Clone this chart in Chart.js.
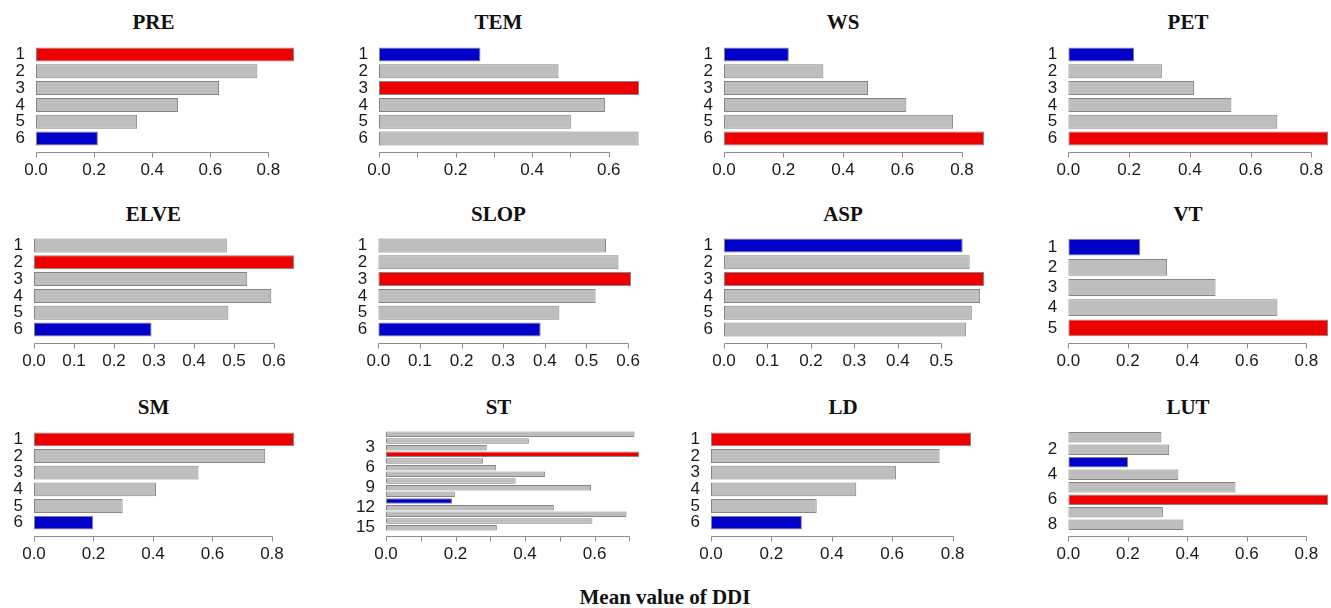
<!DOCTYPE html>
<html>
<head>
<meta charset="utf-8">
<script src="https://cdn.jsdelivr.net/npm/chart.js@4.4.1/dist/chart.umd.min.js"></script>
<style>
  html, body { margin: 0; background: #fff; }
  #fig { position: relative; width: 1331px; height: 608px; overflow: hidden; }
  #fig canvas { position: absolute; }
  .ttl {
    position: absolute; transform: translate(-50%, -50%);
    font: bold 21px "Liberation Serif", "Times New Roman", serif;
    color: #111; line-height: 1; white-space: nowrap;
  }
</style>
</head>
<body>
<div id="fig"></div>
<script>
// ─────────────────────────────────────────────
//  DATA  (mean DDI per class)
// ─────────────────────────────────────────────
const classes5  = ['1', '2', '3', '4', '5'];
const classes6  = ['1', '2', '3', '4', '5', '6'];
const classes8  = ['1', '2', '3', '4', '5', '6', '7', '8'];
const classes15 = ['1', '2', '3', '4', '5', '6', '7', '8', '9', '10', '11', '12', '13', '14', '15'];

const preValues  = [0.888, 0.762, 0.630, 0.489, 0.348, 0.213];
const temValues  = [0.265, 0.469, 0.679, 0.590, 0.501, 0.678];
const wsValues   = [0.218, 0.334, 0.484, 0.613, 0.770, 0.874];
const petValues  = [0.217, 0.308, 0.414, 0.537, 0.688, 0.855];
const elveValues = [0.482, 0.650, 0.533, 0.593, 0.486, 0.294];
const slopValues = [0.547, 0.577, 0.607, 0.522, 0.435, 0.390];
const aspValues  = [0.549, 0.565, 0.598, 0.589, 0.570, 0.557];
const vtValues   = [0.242, 0.332, 0.495, 0.703, 0.873];
const smValues   = [0.874, 0.777, 0.553, 0.410, 0.298, 0.199];
const stValues   = [0.715, 0.411, 0.290, 0.728, 0.279, 0.317, 0.458, 0.373, 0.590, 0.198, 0.190, 0.483, 0.692, 0.594, 0.319];
const ldValues   = [0.861, 0.757, 0.613, 0.481, 0.350, 0.301];
const lutValues  = [0.313, 0.339, 0.201, 0.370, 0.562, 0.873, 0.318, 0.387];

const xTitle = 'Mean value of DDI';

// ─────────────────────────────────────────────
//  LAYOUT
// ─────────────────────────────────────────────
const RED = '#EE0000', BLUE = '#0000C8', GRAY = '#BEBEBE';
const TXT = '#1a1a1a';
const titleX = [153.5, 498.5, 843, 1188];
const titleY = [22, 214, 406.5];
const rowTop = [46, 237, 431];      // top of plotting region
const rowH   = [101, 101, 100];     // height of plotting region
const Y_AXIS_W = 45, X_AXIS_H = 36, PAD_TOP = 4, PAD_RIGHT = 16;

// tick = tick spacing, lab = label spacing (R drops crowded labels), yEvery = category label spacing
const panels = [
  { name: 'PRE',  labels: classes6,  values: preValues,  tick: 0.2, lab: 0.2, yEvery: 1, col: 0, row: 0, left: 36,     width: 258.3 },
  { name: 'TEM',  labels: classes6,  values: temValues,  tick: 0.1, lab: 0.2, yEvery: 1, col: 1, row: 0, left: 379,    width: 260 },
  { name: 'WS',   labels: classes6,  values: wsValues,   tick: 0.2, lab: 0.2, yEvery: 1, col: 2, row: 0, left: 724,    width: 259.7 },
  { name: 'PET',  labels: classes6,  values: petValues,  tick: 0.2, lab: 0.2, yEvery: 1, col: 3, row: 0, left: 1068.3, width: 260 },
  { name: 'ELVE', labels: classes6,  values: elveValues, tick: 0.1, lab: 0.1, yEvery: 1, col: 0, row: 1, left: 34,     width: 260.3 },
  { name: 'SLOP', labels: classes6,  values: slopValues, tick: 0.1, lab: 0.1, yEvery: 1, col: 1, row: 1, left: 378.3,  width: 252.4 },
  { name: 'ASP',  labels: classes6,  values: aspValues,  tick: 0.1, lab: 0.1, yEvery: 1, col: 2, row: 1, left: 724,    width: 259.7 },
  { name: 'VT',   labels: classes5,  values: vtValues,   tick: 0.2, lab: 0.2, yEvery: 1, col: 3, row: 1, left: 1068.3, width: 260 },
  { name: 'SM',   labels: classes6,  values: smValues,   tick: 0.2, lab: 0.2, yEvery: 1, col: 0, row: 2, left: 34,     width: 260.3 },
  { name: 'ST',   labels: classes15, values: stValues,   tick: 0.1, lab: 0.2, yEvery: 3, col: 1, row: 2, left: 386,    width: 253 },
  { name: 'LD',   labels: classes6,  values: ldValues,   tick: 0.2, lab: 0.2, yEvery: 1, col: 2, row: 2, left: 711,    width: 260 },
  { name: 'LUT',  labels: classes8,  values: lutValues,  tick: 0.2, lab: 0.2, yEvery: 2, col: 3, row: 2, left: 1068.3, width: 260 }
];

// R-style axis: line from first to last tick, short ticks pointing down, a few px below the bars
const rAxis = {
  id: 'rAxis',
  afterDraw(chart) {
    const { ctx, chartArea, scales: { x } } = chart;
    const vals = x.ticks.map(t => t.value);
    const y = Math.round(chartArea.bottom + 5) + 0.5;
    const px = v => Math.round(x.getPixelForValue(v)) + 0.5;
    ctx.save();
    ctx.strokeStyle = '#8c8c8c';
    ctx.lineWidth = 1;
    ctx.beginPath();
    ctx.moveTo(px(vals[0]), y);
    ctx.lineTo(px(vals[vals.length - 1]), y);
    vals.forEach(v => { ctx.moveTo(px(v), y); ctx.lineTo(px(v), y + 5); });
    ctx.stroke();
    ctx.restore();
  }
};

function barColors(values) {
  const hi = values.indexOf(Math.max(...values));
  const lo = values.indexOf(Math.min(...values));
  return values.map((v, i) => i === hi ? RED : i === lo ? BLUE : GRAY);
}

function renderPanel(p) {
  const fig = document.getElementById('fig');
  const left = Math.round(p.left - Y_AXIS_W);
  const canvas = document.createElement('canvas');
  canvas.width = Math.round(Y_AXIS_W + p.width + PAD_RIGHT + (p.left - Y_AXIS_W - left));
  canvas.height = PAD_TOP + rowH[p.row] + X_AXIS_H;
  canvas.style.left = left + 'px';
  canvas.style.top = (rowTop[p.row] - PAD_TOP) + 'px';
  fig.appendChild(canvas);

  const title = document.createElement('div');
  title.className = 'ttl';
  title.textContent = p.name;
  title.style.left = titleX[p.col] + 'px';
  title.style.top = titleY[p.row] + 'px';
  fig.appendChild(title);

  const tickFont = { family: '"Liberation Sans", Arial, sans-serif', size: 17 };
  const labStep = Math.round(p.lab * 10);

  new Chart(canvas.getContext('2d'), {
    type: 'bar',
    data: {
      labels: p.labels,
      datasets: [{
        data: p.values,
        backgroundColor: barColors(p.values),
        borderColor: '#858585',
        borderWidth: 1,
        borderSkipped: false,
        barPercentage: 1,
        categoryPercentage: 1 / 1.2
      }]
    },
    options: {
      indexAxis: 'y',
      responsive: false,
      animation: false,
      layout: { padding: { top: PAD_TOP, right: PAD_RIGHT, left: p.left - Y_AXIS_W - left, bottom: 0 } },
      plugins: { legend: { display: false }, tooltip: { enabled: false } },
      scales: {
        x: {
          min: 0,
          max: Math.max(...p.values),
          grid: { display: false, drawTicks: false },
          border: { display: false },
          ticks: {
            stepSize: p.tick,
            includeBounds: false,
            autoSkip: false,
            maxRotation: 0,
            padding: 13,
            color: TXT,
            font: tickFont,
            callback: v => (Math.round(v * 10) % labStep === 0 ? v.toFixed(1) : '')
          },
          afterFit: s => { s.height = X_AXIS_H; s.paddingLeft = 0; s.paddingRight = 0; }
        },
        y: {
          grid: { display: false, drawTicks: false },
          border: { display: false },
          ticks: {
            padding: 11,
            autoSkip: false,
            color: TXT,
            font: tickFont,
            callback: (v, i) => ((i + 1) % p.yEvery === 0 ? p.labels[i] : '')
          },
          afterFit: s => { s.width = Y_AXIS_W; s.paddingTop = 0; s.paddingBottom = 0; }
        }
      }
    },
    plugins: [rAxis]
  });
}

panels.forEach(renderPanel);

const xt = document.createElement('div');
xt.className = 'ttl';
xt.textContent = xTitle;
xt.style.left = '665px';
xt.style.top = '597px';
document.getElementById('fig').appendChild(xt);
</script>
</body>
</html>
